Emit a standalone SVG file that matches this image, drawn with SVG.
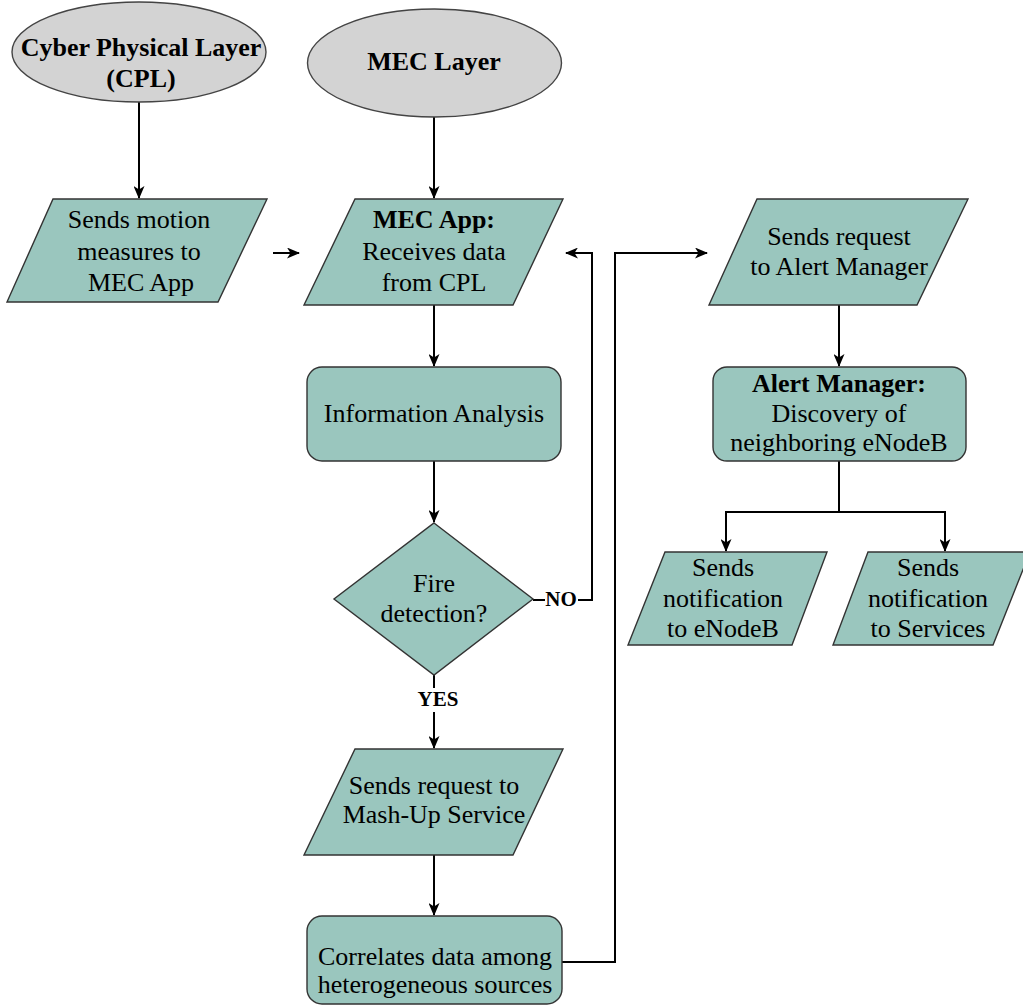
<svg xmlns="http://www.w3.org/2000/svg" width="1023" height="1006" viewBox="0 0 1023 1006">
<defs>
<style>
.sh{fill:#9ac6be;stroke:#333;stroke-width:1.4}
.el{fill:#d3d3d3;stroke:#444;stroke-width:1.4}
.t{font-family:"Liberation Serif","Times New Roman",serif;font-size:26px;fill:#000;text-anchor:middle}
.b{font-weight:bold}
.c{fill:none;stroke:#000;stroke-width:2}
</style>
<marker id="ah" viewBox="0 0 13 11" markerWidth="13" markerHeight="11" refX="12" refY="5.5" orient="auto" markerUnits="userSpaceOnUse">
<path d="M0,0 L13,5.5 L0,11 L3.5,5.5 z" fill="#000"/>
</marker>
</defs>
<rect width="1023" height="1006" fill="#fff"/>
<g id="connectors">
<path class="c" d="M139,102 V198" marker-end="url(#ah)"/>
<path class="c" d="M273,253 H299" marker-end="url(#ah)"/>
<path class="c" d="M434,117 V198" marker-end="url(#ah)"/>
<path class="c" d="M434,305 V366" marker-end="url(#ah)"/>
<path class="c" d="M434,461 V522" marker-end="url(#ah)"/>
<path class="c" d="M533,600 H545 M578,600 H592 V253 H566" marker-end="url(#ah)"/>
<path class="c" d="M434,675 V688 M434,712 V748" marker-end="url(#ah)"/>
<path class="c" d="M434,855 V915" marker-end="url(#ah)"/>
<path class="c" d="M562,962 H615 V253 H707" marker-end="url(#ah)"/>
<path class="c" d="M839,305 V366" marker-end="url(#ah)"/>
<path class="c" d="M839,461 V512"/>
<path class="c" d="M726,512 H945"/>
<path class="c" d="M726,511 V551" marker-end="url(#ah)"/>
<path class="c" d="M945,511 V551" marker-end="url(#ah)"/>
<text class="t b" x="561" y="606" style="font-size:21px">NO</text>
<text class="t b" x="438" y="706" style="font-size:21px">YES</text>
</g>
<g id="cpl">
<ellipse class="el" cx="139" cy="52" rx="127" ry="50"/>
<text class="t b" x="141" y="56">Cyber Physical Layer</text>
<text class="t b" x="141" y="87">(CPL)</text>
</g>
<g id="mec-layer">
<ellipse class="el" cx="434.5" cy="63" rx="127" ry="54"/>
<text class="t b" x="434" y="70">MEC Layer</text>
</g>
<g id="sends-motion">
<polygon class="sh" points="53,199 267,199 218,302 7,302"/>
<text class="t" x="139" y="228">Sends motion</text>
<text class="t" x="139" y="260">measures to</text>
<text class="t" x="141" y="291">MEC App</text>
</g>
<g id="mec-app">
<polygon class="sh" points="355,199 563,199 513,305 304,305"/>
<text class="t b" x="434" y="228">MEC App:</text>
<text class="t" x="434" y="260">Receives data</text>
<text class="t" x="434" y="291">from CPL</text>
</g>
<g id="info-analysis">
<rect class="sh" x="307" y="367" width="254" height="94" rx="15"/>
<text class="t" x="434" y="422">Information Analysis</text>
</g>
<g id="fire-detection">
<polygon class="sh" points="434,523 533,599 434,675 334,599"/>
<text class="t" x="434" y="592">Fire</text>
<text class="t" x="434" y="622">detection?</text>
</g>
<g id="mashup-request">
<polygon class="sh" points="355,749 563,749 513,855 304,855"/>
<text class="t" x="434" y="794">Sends request to</text>
<text class="t" x="434" y="823">Mash-Up Service</text>
</g>
<g id="correlates">
<rect class="sh" x="307" y="916" width="255" height="88" rx="15"/>
<text class="t" x="435" y="965">Correlates data among</text>
<text class="t" x="435" y="993">heterogeneous sources</text>
</g>
<g id="alert-request">
<polygon class="sh" points="757,199 968,199 917,305 709,305"/>
<text class="t" x="839" y="245">Sends request</text>
<text class="t" x="839" y="275">to Alert Manager</text>
</g>
<g id="alert-manager">
<rect class="sh" x="713" y="367" width="253" height="94" rx="14"/>
<text class="t b" x="839" y="392">Alert Manager:</text>
<text class="t" x="839" y="422">Discovery of</text>
<text class="t" x="839" y="451">neighboring eNodeB</text>
</g>
<g id="notify-enodeb">
<polygon class="sh" points="665,552 827,552 792,645 628,645"/>
<text class="t" x="723" y="576">Sends</text>
<text class="t" x="723" y="607">notification</text>
<text class="t" x="723" y="637">to eNodeB</text>
</g>
<g id="notify-services">
<polygon class="sh" points="868,552 1030,552 993,645 833,645"/>
<text class="t" x="928" y="576">Sends</text>
<text class="t" x="928" y="607">notification</text>
<text class="t" x="928" y="637">to Services</text>
</g>
</svg>
